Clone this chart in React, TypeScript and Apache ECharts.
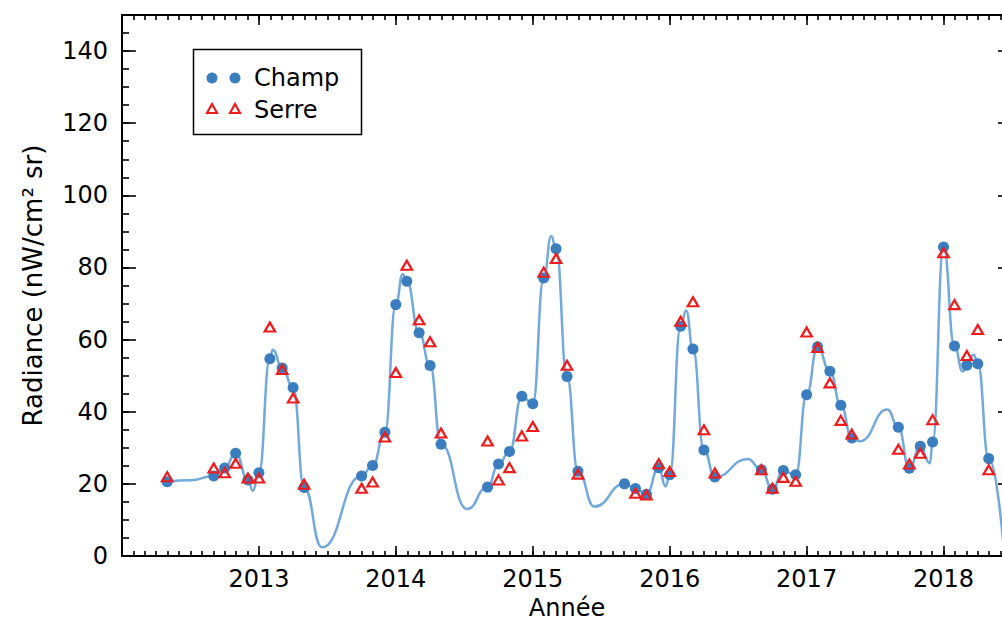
import React, { useEffect, useRef } from "react";
import * as echarts from "echarts";

const champDates = [
  2012.33, 2012.67, 2012.75, 2012.83, 2012.92, 2013.0, 2013.08, 2013.17, 2013.25, 2013.33,
  2013.75, 2013.83, 2013.92, 2014.0, 2014.08, 2014.17, 2014.25, 2014.33,
  2014.67, 2014.75, 2014.83, 2014.92, 2015.0, 2015.08, 2015.17, 2015.25, 2015.33,
  2015.67, 2015.75, 2015.83, 2015.92, 2016.0, 2016.08, 2016.17, 2016.25, 2016.33,
  2016.67, 2016.75, 2016.83, 2016.92, 2017.0, 2017.08, 2017.17, 2017.25, 2017.33,
  2017.67, 2017.75, 2017.83, 2017.92, 2018.0, 2018.08, 2018.17, 2018.25, 2018.33,
];
const champValues = [
  20.6, 22.2, 24.4, 28.5, 21.1, 23.1, 54.7, 52.1, 46.7, 19.0,
  22.2, 25.1, 34.3, 69.7, 76.2, 61.9, 52.8, 31.0,
  19.1, 25.5, 29.0, 44.3, 42.2, 77.1, 85.2, 49.8, 23.5,
  20.0, 18.7, 17.1, 24.5, 22.5, 63.7, 57.4, 29.4, 21.9,
  23.9, 18.5, 23.7, 22.5, 44.7, 58.0, 51.2, 41.8, 32.7,
  35.7, 24.3, 30.4, 31.6, 85.7, 58.2, 52.9, 53.3, 27.0,
];

const serreDates = [
  2012.33, 2012.67, 2012.75, 2012.83, 2012.92, 2013.0, 2013.08, 2013.17, 2013.25, 2013.33,
  2013.75, 2013.83, 2013.92, 2014.0, 2014.08, 2014.17, 2014.25, 2014.33,
  2014.67, 2014.75, 2014.83, 2014.92, 2015.0, 2015.08, 2015.17, 2015.25, 2015.33,
  2015.75, 2015.83, 2015.92, 2016.0, 2016.08, 2016.17, 2016.25, 2016.33,
  2016.67, 2016.75, 2016.83, 2016.92, 2017.0, 2017.08, 2017.17, 2017.25, 2017.33,
  2017.67, 2017.75, 2017.83, 2017.92, 2018.0, 2018.08, 2018.17, 2018.25, 2018.33,
];
const serreValues = [
  22.0, 24.4, 23.1, 25.7, 21.6, 21.6, 63.5, 51.7, 43.8, 19.9,
  18.8, 20.5, 33.0, 50.9, 80.6, 65.5, 59.4, 34.1,
  31.9, 21.1, 24.5, 33.3, 35.9, 78.7, 82.5, 52.9, 22.7,
  17.4, 16.9, 25.6, 23.4, 65.1, 70.5, 35.0, 23.0,
  23.9, 18.8, 21.8, 20.7, 62.1, 57.8, 48.0, 37.6, 33.8,
  29.6, 25.5, 28.5, 37.8, 84.1, 69.7, 55.6, 62.8, 23.9,
];

// Smoothed fit curve
const curveDates = [
  2012.33, 2012.5, 2012.67, 2012.75, 2012.83, 2012.92, 2012.955, 2013.0, 2013.08, 2013.1,
  2013.17, 2013.25, 2013.33, 2013.46, 2013.75, 2013.83, 2013.92, 2014.0, 2014.05,
  2014.08, 2014.17, 2014.25, 2014.33, 2014.52, 2014.67, 2014.75, 2014.83, 2014.92, 2015.0,
  2015.08, 2015.135, 2015.17, 2015.25, 2015.33, 2015.45, 2015.67, 2015.75, 2015.83, 2015.92,
  2015.97, 2016.0, 2016.08, 2016.12, 2016.17, 2016.25, 2016.33, 2016.57, 2016.67, 2016.75,
  2016.83, 2016.92, 2017.0, 2017.08, 2017.17, 2017.25, 2017.33, 2017.39, 2017.59, 2017.67,
  2017.75, 2017.83, 2017.9, 2017.92, 2018.0, 2018.08, 2018.14, 2018.17, 2018.22, 2018.25,
  2018.33, 2018.44,
];
const curveValues = [
  20.6, 21.0, 22.2, 24.4, 28.5, 21.1, 18.1, 23.1, 54.7, 57.2,
  52.1, 46.7, 19.0, 2.4, 22.2, 25.1, 34.3, 69.7, 78.1,
  76.2, 61.9, 52.8, 31.0, 13.0, 19.1, 25.5, 29.0, 44.3, 42.2,
  77.1, 88.7, 85.2, 49.8, 23.5, 13.7, 20.0, 18.7, 17.1, 24.5,
  19.3, 22.5, 63.7, 68.1, 57.4, 29.4, 21.9, 26.9, 23.9, 18.5,
  23.7, 22.5, 44.7, 58.0, 51.2, 41.8, 32.7, 31.8, 40.6, 35.7,
  24.3, 30.4, 25.7, 31.6, 85.7, 58.2, 51.2, 52.9, 55.8, 53.3,
  27.0, 2.0,
];

const yearLabels = ["2013", "2014", "2015", "2016", "2017", "2018"];

const FONT = "DejaVu Sans";
const BLUE = "#3a7ec0";
const LINE_BLUE = "#74a9dc";
const RED = "#ee1c1c";

const X_MIN = 2012;
const X_MAX = 2018.5;
const Y_MIN = 0;
const Y_MAX = 150;

function xAxis(position: string, interval: number, len: number, labels: boolean) {
  return {
    type: "value",
    position,
    min: X_MIN,
    max: X_MAX,
    interval,
    axisLine: { show: true, onZero: false, lineStyle: { color: "#000", width: 2 } },
    axisTick: { show: true, inside: true, length: len, lineStyle: { color: "#000", width: 1.6 } },
    axisLabel: labels
      ? {
          show: true,
          fontFamily: FONT,
          fontSize: 24,
          color: "#000",
          margin: 11,
          formatter: (v: number) => {
            const s = String(Math.round(v));
            return Math.abs(v - Math.round(v)) < 1e-6 && yearLabels.includes(s) ? s : "";
          },
        }
      : { show: false },
    splitLine: { show: false },
    ...(labels
      ? {
          name: "Année",
          nameLocation: "middle",
          nameGap: 33,
          nameTextStyle: { fontFamily: FONT, fontSize: 24, color: "#000", lineHeight: 24 },
        }
      : {}),
  };
}

function yAxis(position: string, interval: number, len: number, labels: boolean) {
  return {
    type: "value",
    position,
    min: Y_MIN,
    max: Y_MAX,
    interval,
    axisLine: { show: true, onZero: false, lineStyle: { color: "#000", width: 2 } },
    axisTick: { show: true, inside: true, length: len, lineStyle: { color: "#000", width: 1.6 } },
    axisLabel: labels
      ? {
          show: true,
          fontFamily: FONT,
          fontSize: 24,
          color: "#000",
          margin: 14,
          formatter: (v: number) => (v % 20 === 0 && v < Y_MAX ? String(v) : ""),
        }
      : { show: false },
    splitLine: { show: false },
    ...(labels
      ? {
          name: "Radiance (nW/cm² sr)",
          nameLocation: "middle",
          nameGap: 76,
          nameRotate: 90,
          nameTextStyle: { fontFamily: FONT, fontSize: 26, color: "#000" },
        }
      : {}),
  };
}

export default function App() {
  const ref = useRef<HTMLDivElement>(null);

  useEffect(() => {
    if (!ref.current) return;
    const chart = echarts.init(ref.current, undefined, { renderer: "svg" });

    const champ = champDates.map((d, i) => [d, champValues[i]]);
    const serre = serreDates.map((d, i) => [d, serreValues[i]]);
    const curve = curveDates.map((d, i) => [d, curveValues[i]]);

    chart.setOption({
      animation: false,
      backgroundColor: "#fff",
      grid: {
        left: 122,
        top: 15,
        width: 890,
        height: 541,
        containLabel: false,
        outerBoundsMode: "none",
      },
      xAxis: [
        xAxis("bottom", 1, 10, true),
        xAxis("bottom", 1 / 12, 5, false),
        xAxis("top", 1, 10, false),
        xAxis("top", 1 / 12, 5, false),
      ],
      yAxis: [
        yAxis("left", 20, 14, true),
        yAxis("left", 5, 7, false),
        yAxis("right", 20, 14, false),
        yAxis("right", 5, 7, false),
      ],
      series: [
        {
          name: "fit",
          type: "line",
          xAxisIndex: 0,
          yAxisIndex: 0,
          data: curve,
          smooth: 0.5,
          smoothMonotone: "x",
          showSymbol: false,
          symbol: "none",
          silent: true,
          lineStyle: { color: LINE_BLUE, width: 2.5 },
          z: 1,
        },
        {
          name: "Champ",
          type: "scatter",
          xAxisIndex: 0,
          yAxisIndex: 0,
          data: champ,
          symbol: "circle",
          symbolSize: 11,
          itemStyle: { color: BLUE, opacity: 1 },
          z: 2,
        },
        {
          name: "Serre",
          type: "scatter",
          xAxisIndex: 0,
          yAxisIndex: 0,
          data: serre,
          symbol: "triangle",
          symbolSize: [10.5, 9],
          itemStyle: { color: "rgba(0,0,0,0)", borderColor: RED, borderWidth: 2.2, opacity: 1 },
          z: 3,
        },
      ],
      graphic: [
        {
          type: "rect",
          shape: { x: 193.5, y: 49.5, width: 168, height: 85 },
          style: { fill: "#fff", stroke: "#000", lineWidth: 1.5 },
          z: 10,
        },
        { type: "circle", shape: { cx: 212, cy: 78, r: 5.5 }, style: { fill: BLUE }, z: 11 },
        { type: "circle", shape: { cx: 235, cy: 78, r: 5.5 }, style: { fill: BLUE }, z: 11 },
        {
          type: "polygon",
          shape: { points: [[212, 104], [207, 113], [217, 113]] },
          style: { fill: "none", stroke: RED, lineWidth: 2.2 },
          z: 11,
        },
        {
          type: "polygon",
          shape: { points: [[235, 104], [230, 113], [240, 113]] },
          style: { fill: "none", stroke: RED, lineWidth: 2.2 },
          z: 11,
        },
        {
          type: "text",
          x: 254,
          y: 78,
          style: { text: "Champ", fontFamily: FONT, fontSize: 24, fill: "#000", verticalAlign: "middle" },
          z: 11,
        },
        {
          type: "text",
          x: 254,
          y: 110,
          style: { text: "Serre", fontFamily: FONT, fontSize: 24, fill: "#000", verticalAlign: "middle" },
          z: 11,
        },
      ],
    });

    return () => chart.dispose();
  }, []);

  return (
    <div
      ref={ref}
      style={{ position: "absolute", left: 0, top: 0, width: 1002, height: 621, background: "#fff" }}
    />
  );
}
